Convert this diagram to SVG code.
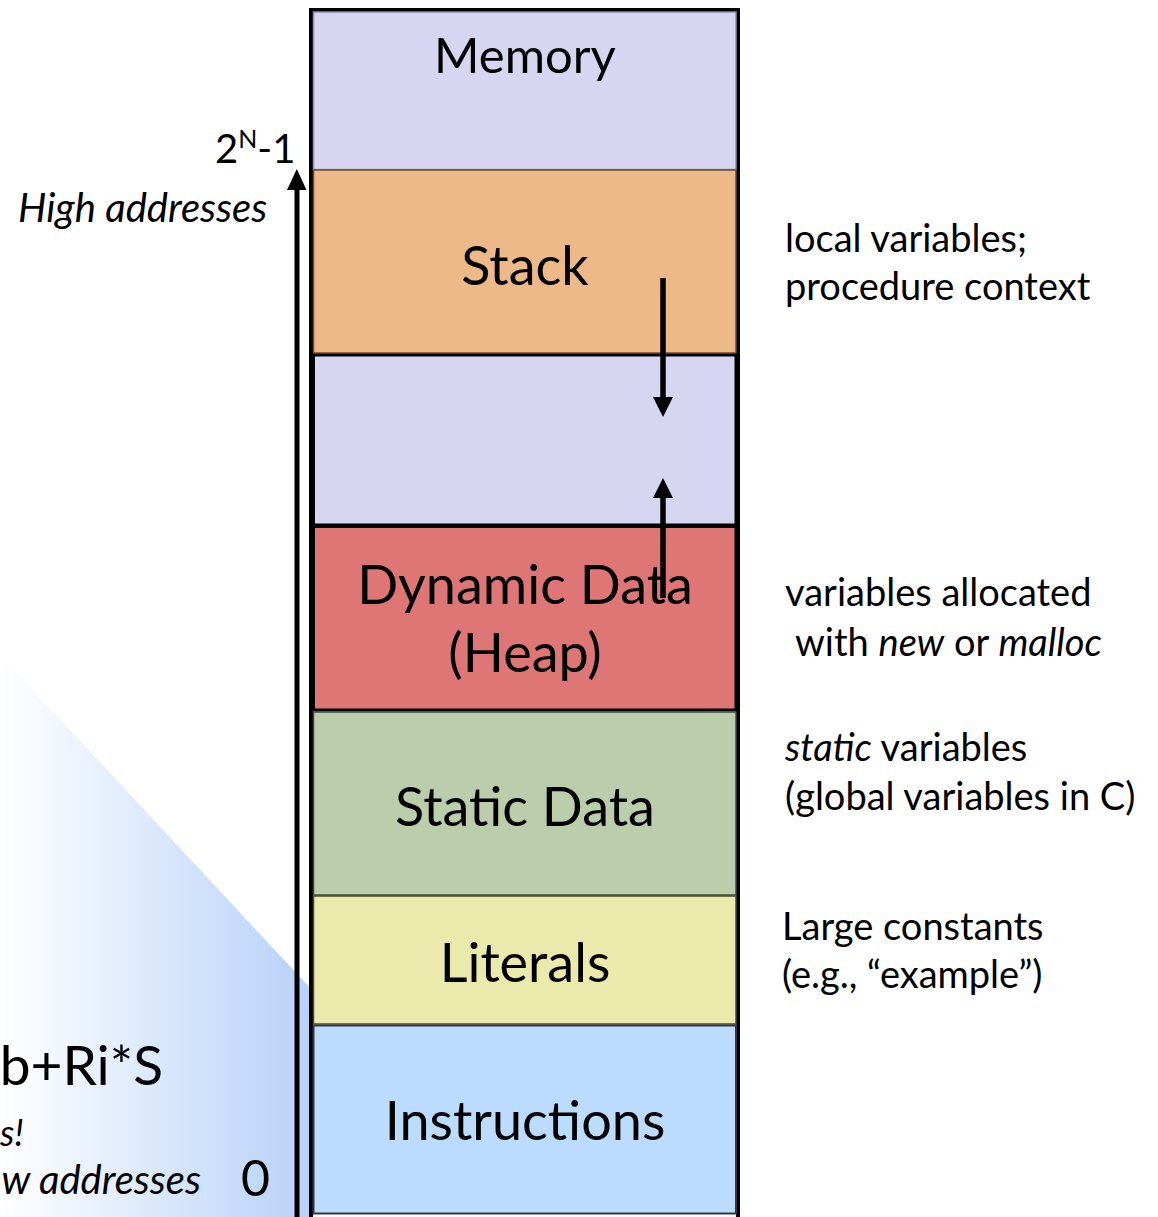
<svg xmlns="http://www.w3.org/2000/svg" width="1158" height="1217" viewBox="0 0 1158 1217">
  <style>
    .lbl { font-family: Lato, "Open Sans", "Liberation Sans", sans-serif; fill: #000; }
    .sec { font-size: 54px; text-anchor: middle; }
    .note { font-size: 38px; }
    .it { font-style: italic; }
    .seg { stroke-width: 1.5; }
  </style>
  <defs>
    <linearGradient id="bg" x1="0" y1="0" x2="310" y2="0" gradientUnits="userSpaceOnUse">
      <stop offset="0" stop-color="#FFFFFF"/>
      <stop offset="1" stop-color="#B7D1F8"/>
    </linearGradient>
  </defs>

  <rect x="0" y="0" width="1158" height="1217" fill="#FFFFFF"/>

  <g id="background-slide">
    <polygon points="0,655 340,1020 340,1217 0,1217" fill="url(#bg)"/>
    <text class="lbl" x="163" y="1085" font-size="55" text-anchor="end">b+Ri*S</text>
    <text class="lbl it" x="0" y="1146" font-size="36">s!</text>
  </g>

  <g id="address-axis">
    <text class="lbl" x="215" y="163" font-size="40">2<tspan font-size="25" dy="-15">N</tspan><tspan dy="15">-1</tspan></text>
    <text class="lbl it" x="18" y="222" font-size="40">High addresses</text>
    <text class="lbl it" x="201" y="1194" font-size="40" text-anchor="end">w addresses</text>
    <text class="lbl" x="241" y="1196" font-size="50">0</text>
  </g>

  <g id="memory">
    <rect x="311" y="10" width="427" height="1220" fill="#FFFFFF" stroke="#000" stroke-width="4"/>
  </g>

  <g id="memory-title">
    <rect x="313.5" y="12" width="422.5" height="157.5" fill="#D6D6F3" stroke="#8C8CA8" class="seg"/>
    <text class="lbl" x="525" y="73" font-size="49" text-anchor="middle">Memory</text>
  </g>

  <g id="stack">
    <rect x="313.5" y="170" width="422.5" height="183" fill="#EDB988" stroke="#6B4A2A" class="seg"/>
    <text class="lbl sec" x="525" y="285">Stack</text>
  </g>

  <g id="free-space">
    <rect x="313.5" y="355" width="422.5" height="170" fill="#D6D6F3" stroke="#000" stroke-width="3"/>
  </g>

  <g id="heap">
    <rect x="313.5" y="526.5" width="422.5" height="183.5" fill="#DE7675" stroke="#000" stroke-width="3"/>
    <text class="lbl sec" x="525" y="604">Dynamic Data</text>
    <text class="lbl sec" x="525" y="672">(Heap)</text>
  </g>

  <g id="static-data">
    <rect x="313.5" y="712" width="422.5" height="183" fill="#BCCDAB" stroke="#404A38" class="seg"/>
    <text class="lbl sec" x="525" y="826">Static Data</text>
  </g>

  <g id="literals">
    <rect x="313.5" y="896" width="422.5" height="128" fill="#EAEAAD" stroke="#4A4A2A" class="seg"/>
    <text class="lbl sec" x="525" y="982">Literals</text>
  </g>

  <g id="instructions">
    <rect x="313.5" y="1025.5" width="422.5" height="188" fill="#BBDCFE" stroke="#303840" stroke-width="2"/>
    <text class="lbl sec" x="525" y="1140">Instructions</text>
  </g>

  <g id="connectors" fill="#000" stroke="#000">
    <line x1="297" y1="1217" x2="297" y2="188" stroke-width="5"/>
    <polygon points="287,190 306.5,190 296.8,169" stroke="none"/>
    <line x1="663" y1="278" x2="663" y2="399" stroke-width="5.5"/>
    <polygon points="653,397 673,397 663,417" stroke="none"/>
    <line x1="663" y1="598" x2="663" y2="496" stroke-width="5.5"/>
    <polygon points="653,498 673,498 663,478" stroke="none"/>
  </g>

  <g id="notes">
    <text class="lbl note" x="785" y="252">local variables;</text>
    <text class="lbl note" x="785" y="300">procedure context</text>
    <text class="lbl note" x="785" y="606">variables allocated</text>
    <text class="lbl note" x="795" y="656">with <tspan class="it">new</tspan> or <tspan class="it">malloc</tspan></text>
    <text class="lbl note" x="785" y="761"><tspan class="it">static</tspan> variables</text>
    <text class="lbl note" x="785" y="810">(global variables in C)</text>
    <text class="lbl note" x="782" y="940">Large constants</text>
    <text class="lbl note" x="782" y="988">(e.g., “example”)</text>
  </g>
</svg>
